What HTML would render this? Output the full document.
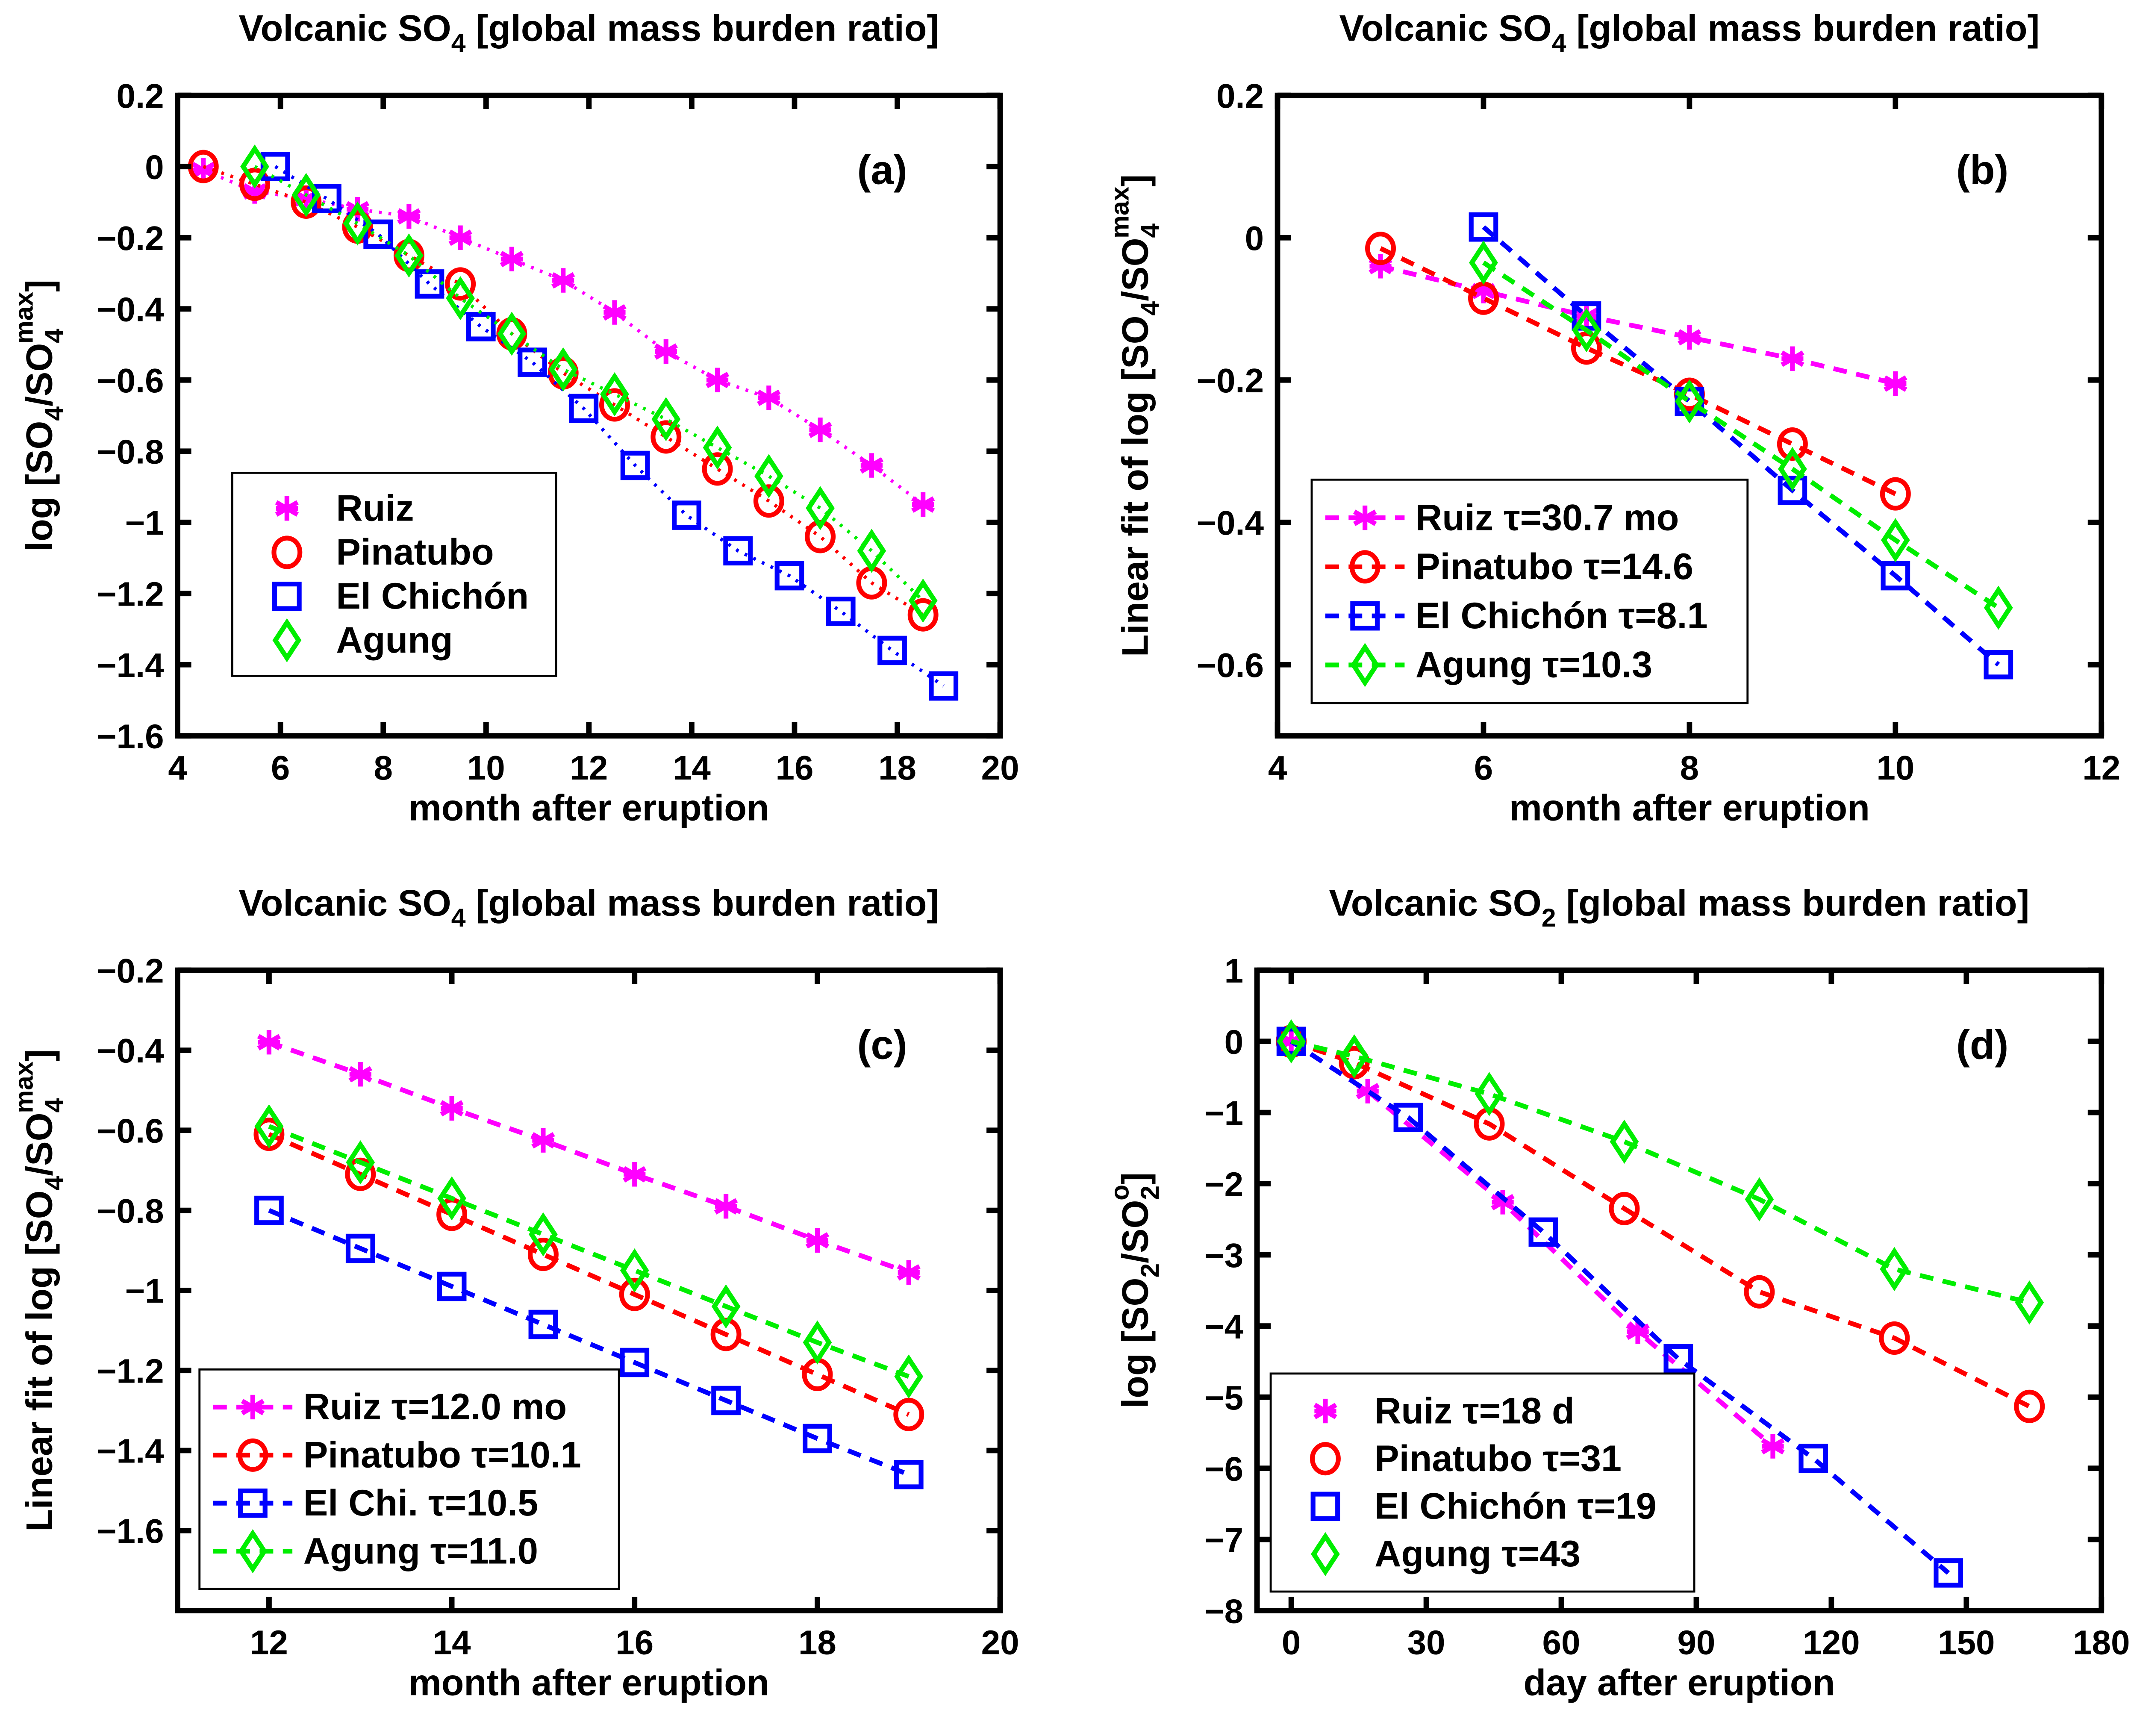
<!DOCTYPE html>
<html><head><meta charset="utf-8"><style>
html,body{margin:0;padding:0;background:#fff;}
svg{display:block;font-family:"Liberation Sans",sans-serif;font-weight:bold;}
</style></head><body>
<svg id="fig" xmlns="http://www.w3.org/2000/svg" width="5067" height="4062" viewBox="0 0 1585 1274" preserveAspectRatio="none"></svg>
<script>
// ---- Panel (a) data ----
const aRuizX=[4.5,5.5,6.5,7.5,8.5,9.5,10.5,11.5,12.5,13.5,14.5,15.5,16.5,17.5,18.5];
const aRuizY=[-0.01,-0.07,-0.09,-0.12,-0.14,-0.20,-0.26,-0.32,-0.41,-0.52,-0.60,-0.65,-0.74,-0.84,-0.95];
const aPinX=[4.5,5.5,6.5,7.5,8.5,9.5,10.5,11.5,12.5,13.5,14.5,15.5,16.5,17.5,18.5];
const aPinY=[0,-0.05,-0.10,-0.17,-0.25,-0.33,-0.47,-0.58,-0.67,-0.76,-0.85,-0.94,-1.04,-1.17,-1.26];
const aElX=[5.9,6.9,7.9,8.9,9.9,10.9,11.9,12.9,13.9,14.9,15.9,16.9,17.9,18.9];
const aElY=[0,-0.09,-0.19,-0.33,-0.45,-0.55,-0.68,-0.84,-0.98,-1.08,-1.15,-1.25,-1.36,-1.46];
const aAgX=[5.5,6.5,7.5,8.5,9.5,10.5,11.5,12.5,13.5,14.5,15.5,16.5,17.5,18.5];
const aAgY=[0,-0.08,-0.16,-0.25,-0.37,-0.47,-0.57,-0.64,-0.71,-0.79,-0.87,-0.96,-1.08,-1.22];
// ---- Panel (b) data ----
const bRuizX=[5,6,7,8,9,10];
const bRuizY=[-0.04,-0.075,-0.11,-0.14,-0.17,-0.205];
const bPinX=[5,6,7,8,9,10];
const bPinY=[-0.015,-0.085,-0.155,-0.22,-0.29,-0.36];
const bElX=[6,7,8,9,10,11];
const bElY=[0.015,-0.11,-0.23,-0.355,-0.475,-0.60];
const bAgX=[6,7,8,9,10,11];
const bAgY=[-0.035,-0.13,-0.23,-0.325,-0.425,-0.52];
// ---- Panel (c) data ----
const cX=[12,13,14,15,16,17,18,19];
const cRuizY=[-0.38,-0.46,-0.545,-0.625,-0.71,-0.79,-0.875,-0.955];
const cPinY=[-0.61,-0.71,-0.81,-0.91,-1.01,-1.11,-1.21,-1.31];
const cElY=[-0.80,-0.895,-0.99,-1.085,-1.18,-1.275,-1.37,-1.46];
const cAgY=[-0.59,-0.68,-0.77,-0.86,-0.95,-1.04,-1.13,-1.215];
// ---- Panel (d) data ----
const dRuizX=[0,17,47,77,107];
const dRuizY=[0,-0.7,-2.26,-4.08,-5.69];
const dPinX=[0,14,44,74,104,134,164];
const dPinY=[0,-0.3,-1.16,-2.35,-3.52,-4.17,-5.13];
const dElX=[0,26,56,86,116,146];
const dElY=[0,-1.07,-2.68,-4.46,-5.86,-7.47];
const dAgX=[0,14,44,74,104,134,164];
const dAgY=[0,-0.21,-0.74,-1.41,-2.22,-3.2,-3.67];
// tick labels
const aXT=[4,6,8,10,12,14,16,18,20], aYT=[0.2,0,-0.2,-0.4,-0.6,-0.8,-1,-1.2,-1.4,-1.6];
const bXT=[4,6,8,10,12], bYT=[0.2,0,-0.2,-0.4,-0.6];
const cXT=[12,14,16,18,20], cYT=[-0.2,-0.4,-0.6,-0.8,-1,-1.2,-1.4,-1.6];
const dXT=[0,30,60,90,120,150,180], dYT=[1,0,-1,-2,-3,-4,-5,-6,-7,-8];

const NS="http://www.w3.org/2000/svg";
const svg=document.getElementById('fig');
function mk(tag,attrs,parent){const e=document.createElementNS(NS,tag);for(const k in attrs)e.setAttribute(k,attrs[k]);(parent||svg).appendChild(e);return e;}
const COL={ruiz:'#ff00ff',pin:'#ff0000',el:'#0000ff',ag:'#00ee00'};
function fmt(v){return (v<0?'\u2212':'')+Math.abs(v).toString();}

function marker(g,type,x,y,c){
  let e;
  if(type==='star'){
    e=mk('g',{stroke:c,'stroke-width':3.5},g);
    for(const a of [0,60,120]){const r=a*Math.PI/180;mk('line',{x1:x-9*Math.sin(r),y1:y-9*Math.cos(r),x2:x+9*Math.sin(r),y2:y+9*Math.cos(r)},e);}
    mk('line',{x1:x-8,y1:y,x2:x+8,y2:y},e);
  }else if(type==='circ'){
    e=mk('ellipse',{cx:x,cy:y,rx:9.5,ry:10.5,fill:'none',stroke:c,'stroke-width':3.5},g);
  }else if(type==='sq'){
    e=mk('rect',{x:x-9,y:y-9,width:18,height:18,fill:'none',stroke:c,'stroke-width':3.5},g);
  }else{
    e=mk('polygon',{points:`${x},${y-13} ${x+8.5},${y} ${x},${y+13} ${x-8.5},${y}`,fill:'none',stroke:c,'stroke-width':3.5},g);
  }
  return e;
}

function panel(o){
  const g=mk('g',{});
  
  
  const sx=v=>o.L+(v-o.x0)/(o.x1-o.x0)*(o.R-o.L);
  const sy=v=>o.T+(o.y0-v)/(o.y0-o.y1)*(o.B-o.T);
  for(const s of o.series){
    const sg=mk('g',{},g);
    
    
    const pts=s.x.map((v,i)=>sx(v)+','+sy(s.y[i])).join(' ');
    mk('polyline',{points:pts,fill:'none',stroke:s.c,'stroke-width':o.dash?3.5:2.5,'stroke-dasharray':o.dash?'10,7':'2,5'},sg);
    s.x.forEach((v,i)=>{const m=marker(sg,s.m,sx(v),sy(s.y[i]),s.c);
      
      });
  }
  const box=mk('rect',{x:o.L,y:o.T,width:o.R-o.L,height:o.B-o.T,fill:'none',stroke:'#000','stroke-width':4},g);
  
  
  for(const t of o.xt){const x=sx(t);
    mk('line',{x1:x,y1:o.B,x2:x,y2:o.B-10,stroke:'#000','stroke-width':4},g);
    mk('line',{x1:x,y1:o.T,x2:x,y2:o.T+10,stroke:'#000','stroke-width':4},g);
    const tx=mk('text',{x:x,y:o.B+32,'font-size':25,'text-anchor':'middle'},g);tx.textContent=fmt(t);
    
    }
  for(const t of o.yt){const y=sy(t);
    mk('line',{x1:o.L,y1:y,x2:o.L+10,y2:y,stroke:'#000','stroke-width':4},g);
    mk('line',{x1:o.R,y1:y,x2:o.R-10,y2:y,stroke:'#000','stroke-width':4},g);
    const tx=mk('text',{x:o.L-10,y:y+9,'font-size':25,'text-anchor':'end'},g);tx.textContent=fmt(t);
    
    }
  const tt=mk('text',{x:(o.L+o.R)/2,y:o.T-40,'font-size':27,'text-anchor':'middle'},g);
  tt.innerHTML=o.title;
  
  
  const xl=mk('text',{x:(o.L+o.R)/2,y:o.B+62,'font-size':27,'text-anchor':'middle'},g);
  xl.textContent=o.xlabel;
  
  
  const yl=mk('text',{x:0,y:0,'font-size':27,'text-anchor':'middle',transform:`translate(${o.ylx},${(o.T+o.B)/2}) rotate(-90)`},g);
  yl.innerHTML=o.ylabel;
  
  
  const pl=mk('text',{x:o.R-68,y:o.T+65,'font-size':30,'text-anchor':'end'},g);
  pl.textContent=o.plabel;
  
  
  const lg=mk('g',{},g);
  
  
  const [lx,ly,lw,lh]=o.leg;
  mk('rect',{x:lx,y:ly,width:lw,height:lh,fill:'#fff',stroke:'#000','stroke-width':1.5},lg);
  const step=(lh-20)/4;
  o.series.forEach((s,i)=>{
    const cy=ly+10+step*(i+0.5);
    const le=mk('g',{},lg);
    
    
    let mx=lx+40, tx=lx+76;
    if(o.legLine){mk('line',{x1:lx+10,y1:cy,x2:lx+68,y2:cy,stroke:s.c,'stroke-width':3.5,'stroke-dasharray':'10,7'},le);mx=lx+39;}
    marker(le,s.m,mx,cy,s.c);
    const t=mk('text',{x:tx,y:cy+9,'font-size':27},le);t.textContent=s.label;
  });
}

const sub=n=>`<tspan font-size="19" dy="8">${n}</tspan>`;
const T4='Volcanic SO'+sub(4)+'<tspan dy="-8"> [global mass burden ratio]</tspan>';
const T2='Volcanic SO'+sub(2)+'<tspan dy="-8"> [global mass burden ratio]</tspan>';
const YL=(pre,n,sup)=>pre+'SO'+sub(n)+'<tspan dy="-8">/SO</tspan>'+sub(n)+`<tspan font-size="19" dx="-11" dy="-22">${sup}</tspan><tspan dy="14">]</tspan>`;
panel({name:'panel-a',L:130,R:732,T:70,B:540,x0:4,x1:20,y0:0.2,y1:-1.6,xt:aXT,yt:aYT,dash:false,legLine:false,
 title:T4,xlabel:'month after eruption',ylx:38,plabel:'(a)',ylabel:YL('log [',4,'max'),
 leg:[170,347,237,149],
 series:[{id:'ruiz',x:aRuizX,y:aRuizY,c:COL.ruiz,m:'star',label:'Ruiz'},
  {id:'pinatubo',x:aPinX,y:aPinY,c:COL.pin,m:'circ',label:'Pinatubo'},
  {id:'el-chichon',x:aElX,y:aElY,c:COL.el,m:'sq',label:'El Chichón'},
  {id:'agung',x:aAgX,y:aAgY,c:COL.ag,m:'dia',label:'Agung'}]});
panel({name:'panel-b',L:935,R:1538,T:70,B:540,x0:4,x1:12,y0:0.2,y1:-0.7,xt:bXT,yt:bYT,dash:true,legLine:true,
 title:T4,xlabel:'month after eruption',ylx:840,plabel:'(b)',ylabel:YL('Linear fit of log [',4,'max'),
 leg:[960,352,319,164],
 series:[{id:'ruiz',x:bRuizX,y:bRuizY,c:COL.ruiz,m:'star',label:'Ruiz τ=30.7 mo'},
  {id:'pinatubo',x:bPinX,y:bPinY,c:COL.pin,m:'circ',label:'Pinatubo τ=14.6'},
  {id:'el-chichon',x:bElX,y:bElY,c:COL.el,m:'sq',label:'El Chichón τ=8.1'},
  {id:'agung',x:bAgX,y:bAgY,c:COL.ag,m:'dia',label:'Agung τ=10.3'}]});
panel({name:'panel-c',L:130,R:732,T:712,B:1182,x0:11,x1:20,y0:-0.2,y1:-1.8,xt:cXT,yt:cYT,dash:true,legLine:true,
 title:T4,xlabel:'month after eruption',ylx:38,plabel:'(c)',ylabel:YL('Linear fit of log [',4,'max'),
 leg:[146,1005,307,161],
 series:[{id:'ruiz',x:cX,y:cRuizY,c:COL.ruiz,m:'star',label:'Ruiz τ=12.0 mo'},
  {id:'pinatubo',x:cX,y:cPinY,c:COL.pin,m:'circ',label:'Pinatubo τ=10.1'},
  {id:'el-chichon',x:cX,y:cElY,c:COL.el,m:'sq',label:'El Chi. τ=10.5'},
  {id:'agung',x:cX,y:cAgY,c:COL.ag,m:'dia',label:'Agung τ=11.0'}]});
panel({name:'panel-d',L:920,R:1538,T:712,B:1182,x0:-7.6,x1:180,y0:1,y1:-8,xt:dXT,yt:dYT,dash:true,legLine:false,
 title:T2,xlabel:'day after eruption',ylx:840,plabel:'(d)',ylabel:YL('log [',2,'o'),
 leg:[930,1008,310,160],
 series:[{id:'ruiz',x:dRuizX,y:dRuizY,c:COL.ruiz,m:'star',label:'Ruiz τ=18 d'},
  {id:'pinatubo',x:dPinX,y:dPinY,c:COL.pin,m:'circ',label:'Pinatubo τ=31'},
  {id:'el-chichon',x:dElX,y:dElY,c:COL.el,m:'sq',label:'El Chichón τ=19'},
  {id:'agung',x:dAgX,y:dAgY,c:COL.ag,m:'dia',label:'Agung τ=43'}]});
</script>
</body></html>
